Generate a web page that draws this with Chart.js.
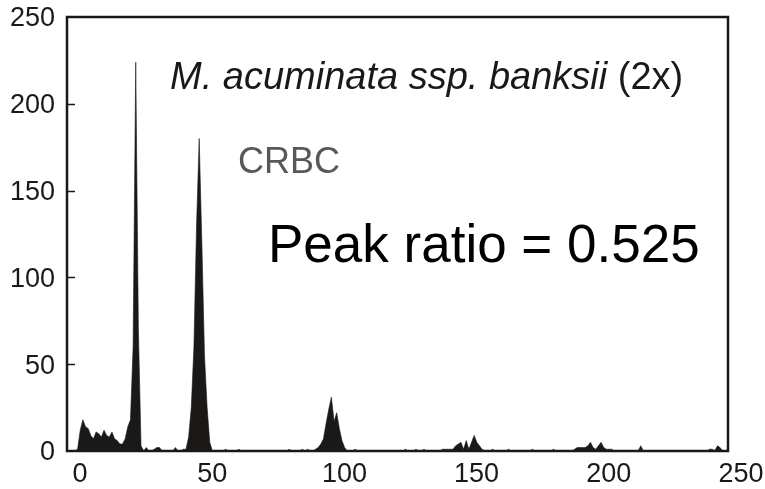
<!DOCTYPE html>
<html>
<head>
<meta charset="utf-8">
<title>Flow cytometry histogram</title>
<script src="https://cdn.jsdelivr.net/npm/chart.js@4"></script>
<style>
  body { margin: 0; background: #fff; }
  #histogram { display: block; }
</style>
</head>
<body>
<canvas id="histogram" width="765" height="489"></canvas>
<script>
// relative fluorescence, one bin per channel (0 - 249)
const counts = [
  0, 0, 0, 0, 1, 12, 18, 14, 13, 9,
  7, 11, 10, 8, 12, 9, 8, 11, 7, 6,
  4, 4, 7, 14, 18, 60, 224, 70, 3, 0,
  2, 0, 0, 1, 2, 2, 0, 0, 0, 0,
  0, 2, 0, 0, 1, 1, 8, 25, 60, 130,
  180, 120, 55, 25, 5, 0, 0, 0, 0, 0,
  1, 0, 0, 0, 0, 1, 0, 0, 0, 0,
  0, 0, 0, 0, 0, 0, 0, 0, 0, 0,
  0, 0, 0, 0, 1, 0, 0, 0, 0, 1,
  0, 1, 0, 0, 1, 2, 4, 7, 16, 24,
  31, 17, 22, 13, 6, 2, 0, 0, 0, 1,
  0, 0, 0, 0, 0, 0, 0, 0, 0, 0,
  0, 0, 0, 0, 0, 0, 0, 0, 1, 0,
  0, 0, 1, 0, 0, 1, 0, 0, 0, 0,
  0, 0, 1, 1, 1, 1, 1, 3, 4, 5,
  1, 6, 1, 5, 9, 5, 3, 1, 0, 0,
  0, 1, 0, 0, 0, 0, 0, 1, 0, 0,
  0, 0, 0, 0, 0, 0, 1, 0, 0, 0,
  0, 0, 0, 0, 1, 0, 0, 0, 0, 0,
  0, 0, 1, 2, 2, 2, 2, 3, 5, 2,
  1, 3, 5, 2, 1, 1, 1, 0, 0, 0,
  0, 0, 0, 0, 0, 0, 0, 3, 0, 0,
  0, 0, 0, 0, 0, 0, 0, 0, 0, 0,
  0, 0, 0, 0, 0, 0, 0, 0, 0, 0,
  0, 0, 0, 1, 1, 0, 3, 2, 0, 0
];
const channels = counts.map((c, i) => i);

const xTicks = [0, 50, 100, 150, 200, 250];
const yTicks = [0, 50, 100, 150, 200, 250];

const sampleName = "M. acuminata ssp. banksii";
const ploidy = " (2x)";
const standardName = "CRBC";
const ratioText = "Peak ratio = 0.525";

const FONT = "'Liberation Sans', Arial, Helvetica, sans-serif";
const INK = "#1b1918";

// frame around the plot + short inward ticks on the y axis
const framePlugin = {
  id: "frame",
  afterDatasetsDraw(chart) {
    const ctx = chart.ctx;
    const a = chart.chartArea;
    const y = chart.scales.y;
    ctx.save();
    ctx.strokeStyle = INK;
    ctx.lineWidth = 1.5;
    yTicks.slice(1, -1).forEach(v => {
      const py = Math.round(y.getPixelForValue(v)) + 0.5;
      ctx.beginPath();
      ctx.moveTo(a.left, py);
      ctx.lineTo(a.left + 8, py);
      ctx.stroke();
    });
    ctx.lineWidth = 2.5;
    ctx.strokeRect(a.left, a.top, a.right - a.left, a.bottom - a.top);
    ctx.restore();
  }
};

// sample / standard labels and the peak ratio
const labelPlugin = {
  id: "labels",
  afterDraw(chart) {
    const ctx = chart.ctx;
    const a = chart.chartArea;
    ctx.save();
    ctx.textBaseline = "alphabetic";
    ctx.textAlign = "left";

    ctx.fillStyle = INK;
    ctx.font = "italic 38px " + FONT;
    const x0 = a.left + 103;
    ctx.fillText(sampleName, x0, a.top + 72);
    const w = ctx.measureText(sampleName).width;
    ctx.font = "38px " + FONT;
    ctx.fillText(ploidy, x0 + w, a.top + 72);

    ctx.fillStyle = "#58585a";
    ctx.font = "36px " + FONT;
    ctx.fillText(standardName, a.left + 171, a.top + 156);

    ctx.fillStyle = "#000";
    ctx.font = "53px " + FONT;
    ctx.fillText(ratioText, a.left + 201, a.top + 245);
    ctx.restore();
  }
};

document.addEventListener("DOMContentLoaded", function () {
  renderHistogram();
});

function renderHistogram() {
  const ctx = document.getElementById("histogram").getContext("2d");
  new Chart(ctx, {
    type: "line",
    data: {
      datasets: [
        {
          data: channels.map((c, i) => ({ x: c, y: counts[i] })),
          backgroundColor: INK,
          borderColor: INK,
          borderWidth: 0.6,
          pointRadius: 0,
          tension: 0,
          fill: "origin",
        },
      ],
    },
    options: {
      responsive: false,
      animation: false,
      layout: { padding: { top: 17, right: 37, left: 0, bottom: 0 } },
      plugins: {
        legend: { display: false },
        tooltip: { enabled: false },
      },
      scales: {
        x: {
          type: "linear",
          min: 0,
          max: 250,
          afterBuildTicks: (scale) => {
            scale.ticks = xTicks.map(v => ({ value: v }));
          },
          afterFit: (scale) => {
            scale.height = 38;
            scale.paddingLeft = 0;
            scale.paddingRight = 0;
          },
          grid: { display: false, drawTicks: false },
          border: { display: false },
          ticks: {
            color: INK,
            font: { family: FONT, size: 27 },
            padding: 7,
            labelOffset: 13,
            maxRotation: 0,
            autoSkip: false,
          },
        },
        y: {
          type: "linear",
          min: 0,
          max: 250,
          afterBuildTicks: (scale) => {
            scale.ticks = yTicks.map(v => ({ value: v }));
          },
          afterFit: (scale) => {
            scale.width = 67;
            scale.paddingTop = 0;
            scale.paddingBottom = 0;
          },
          grid: { display: false, drawTicks: false },
          border: { display: false },
          ticks: {
            color: INK,
            font: { family: FONT, size: 27 },
            padding: 12,
            labelOffset: 2,
          },
        },
      },
    },
    plugins: [framePlugin, labelPlugin],
  });
}
</script>
</body>
</html>
